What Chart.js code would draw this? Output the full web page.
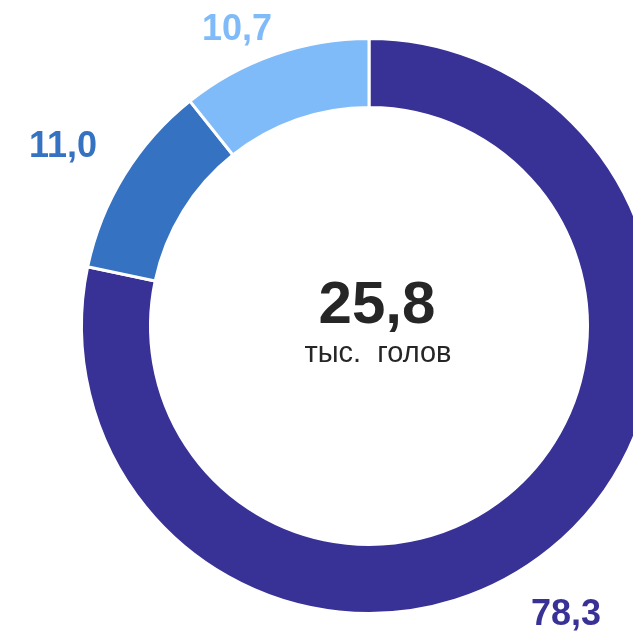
<!DOCTYPE html>
<html>
<head>
<meta charset="utf-8">
<script src="https://cdn.jsdelivr.net/npm/chart.js@4.4.0/dist/chart.umd.min.js"></script>
<style>
  html, body { margin: 0; padding: 0; background: #fff; overflow: hidden; width: 633px; height: 632px; }
  #wrap { position: absolute; left: 0; top: 0; width: 738px; height: 652px; }
</style>
</head>
<body>
<div id="wrap"><canvas id="chart" width="738" height="652"></canvas></div>
<script>
// Данные
const categories = ['A', 'B', 'C'];
const values = [78.3, 11.0, 10.7];
const valueLabels = ['78,3', '11,0', '10,7'];
const colors = ['#383196', '#3572c2', '#80bbf9'];
const totalValue = '25,8';
const totalUnit = 'тыс.  голов';

// Смещение подписей относительно центра кольца
const labelOffsets = [[197, 289], [-306, -179], [-132, -296]];

const labelsPlugin = {
    id: 'ringLabels',
    afterDraw(chart) {
        const ctx = chart.ctx;
        const arc = chart.getDatasetMeta(0).data[0];
        const cx = arc.x, cy = arc.y;
        ctx.save();
        ctx.textAlign = 'center';
        ctx.textBaseline = 'middle';

        valueLabels.forEach((txt, i) => {
            ctx.font = 'bold 36px "Liberation Sans", Arial, sans-serif';
            ctx.fillStyle = colors[i];
            ctx.fillText(txt, cx + labelOffsets[i][0], cy + labelOffsets[i][1]);
        });

        ctx.fillStyle = '#262626';
        ctx.font = 'bold 60px "Liberation Sans", Arial, sans-serif';
        ctx.fillText(totalValue, cx + 8, cy - 20);
        ctx.font = '29px "Liberation Sans", Arial, sans-serif';
        ctx.fillText(totalUnit, cx + 9, cy + 28);
        ctx.restore();
    }
};

new Chart(document.getElementById('chart'), {
    type: 'doughnut',
    data: {
        labels: categories,
        datasets: [{
            data: values,
            backgroundColor: colors,
            borderColor: '#ffffff',
            borderWidth: 3
        }]
    },
    options: {
        responsive: false,
        animation: false,
        cutout: '76%',
        layout: { padding: { top: 37, bottom: 37, left: 80, right: 80 } },
        plugins: {
            legend: { display: false },
            tooltip: { enabled: false }
        }
    },
    plugins: [labelsPlugin]
});
</script>
</body>
</html>
